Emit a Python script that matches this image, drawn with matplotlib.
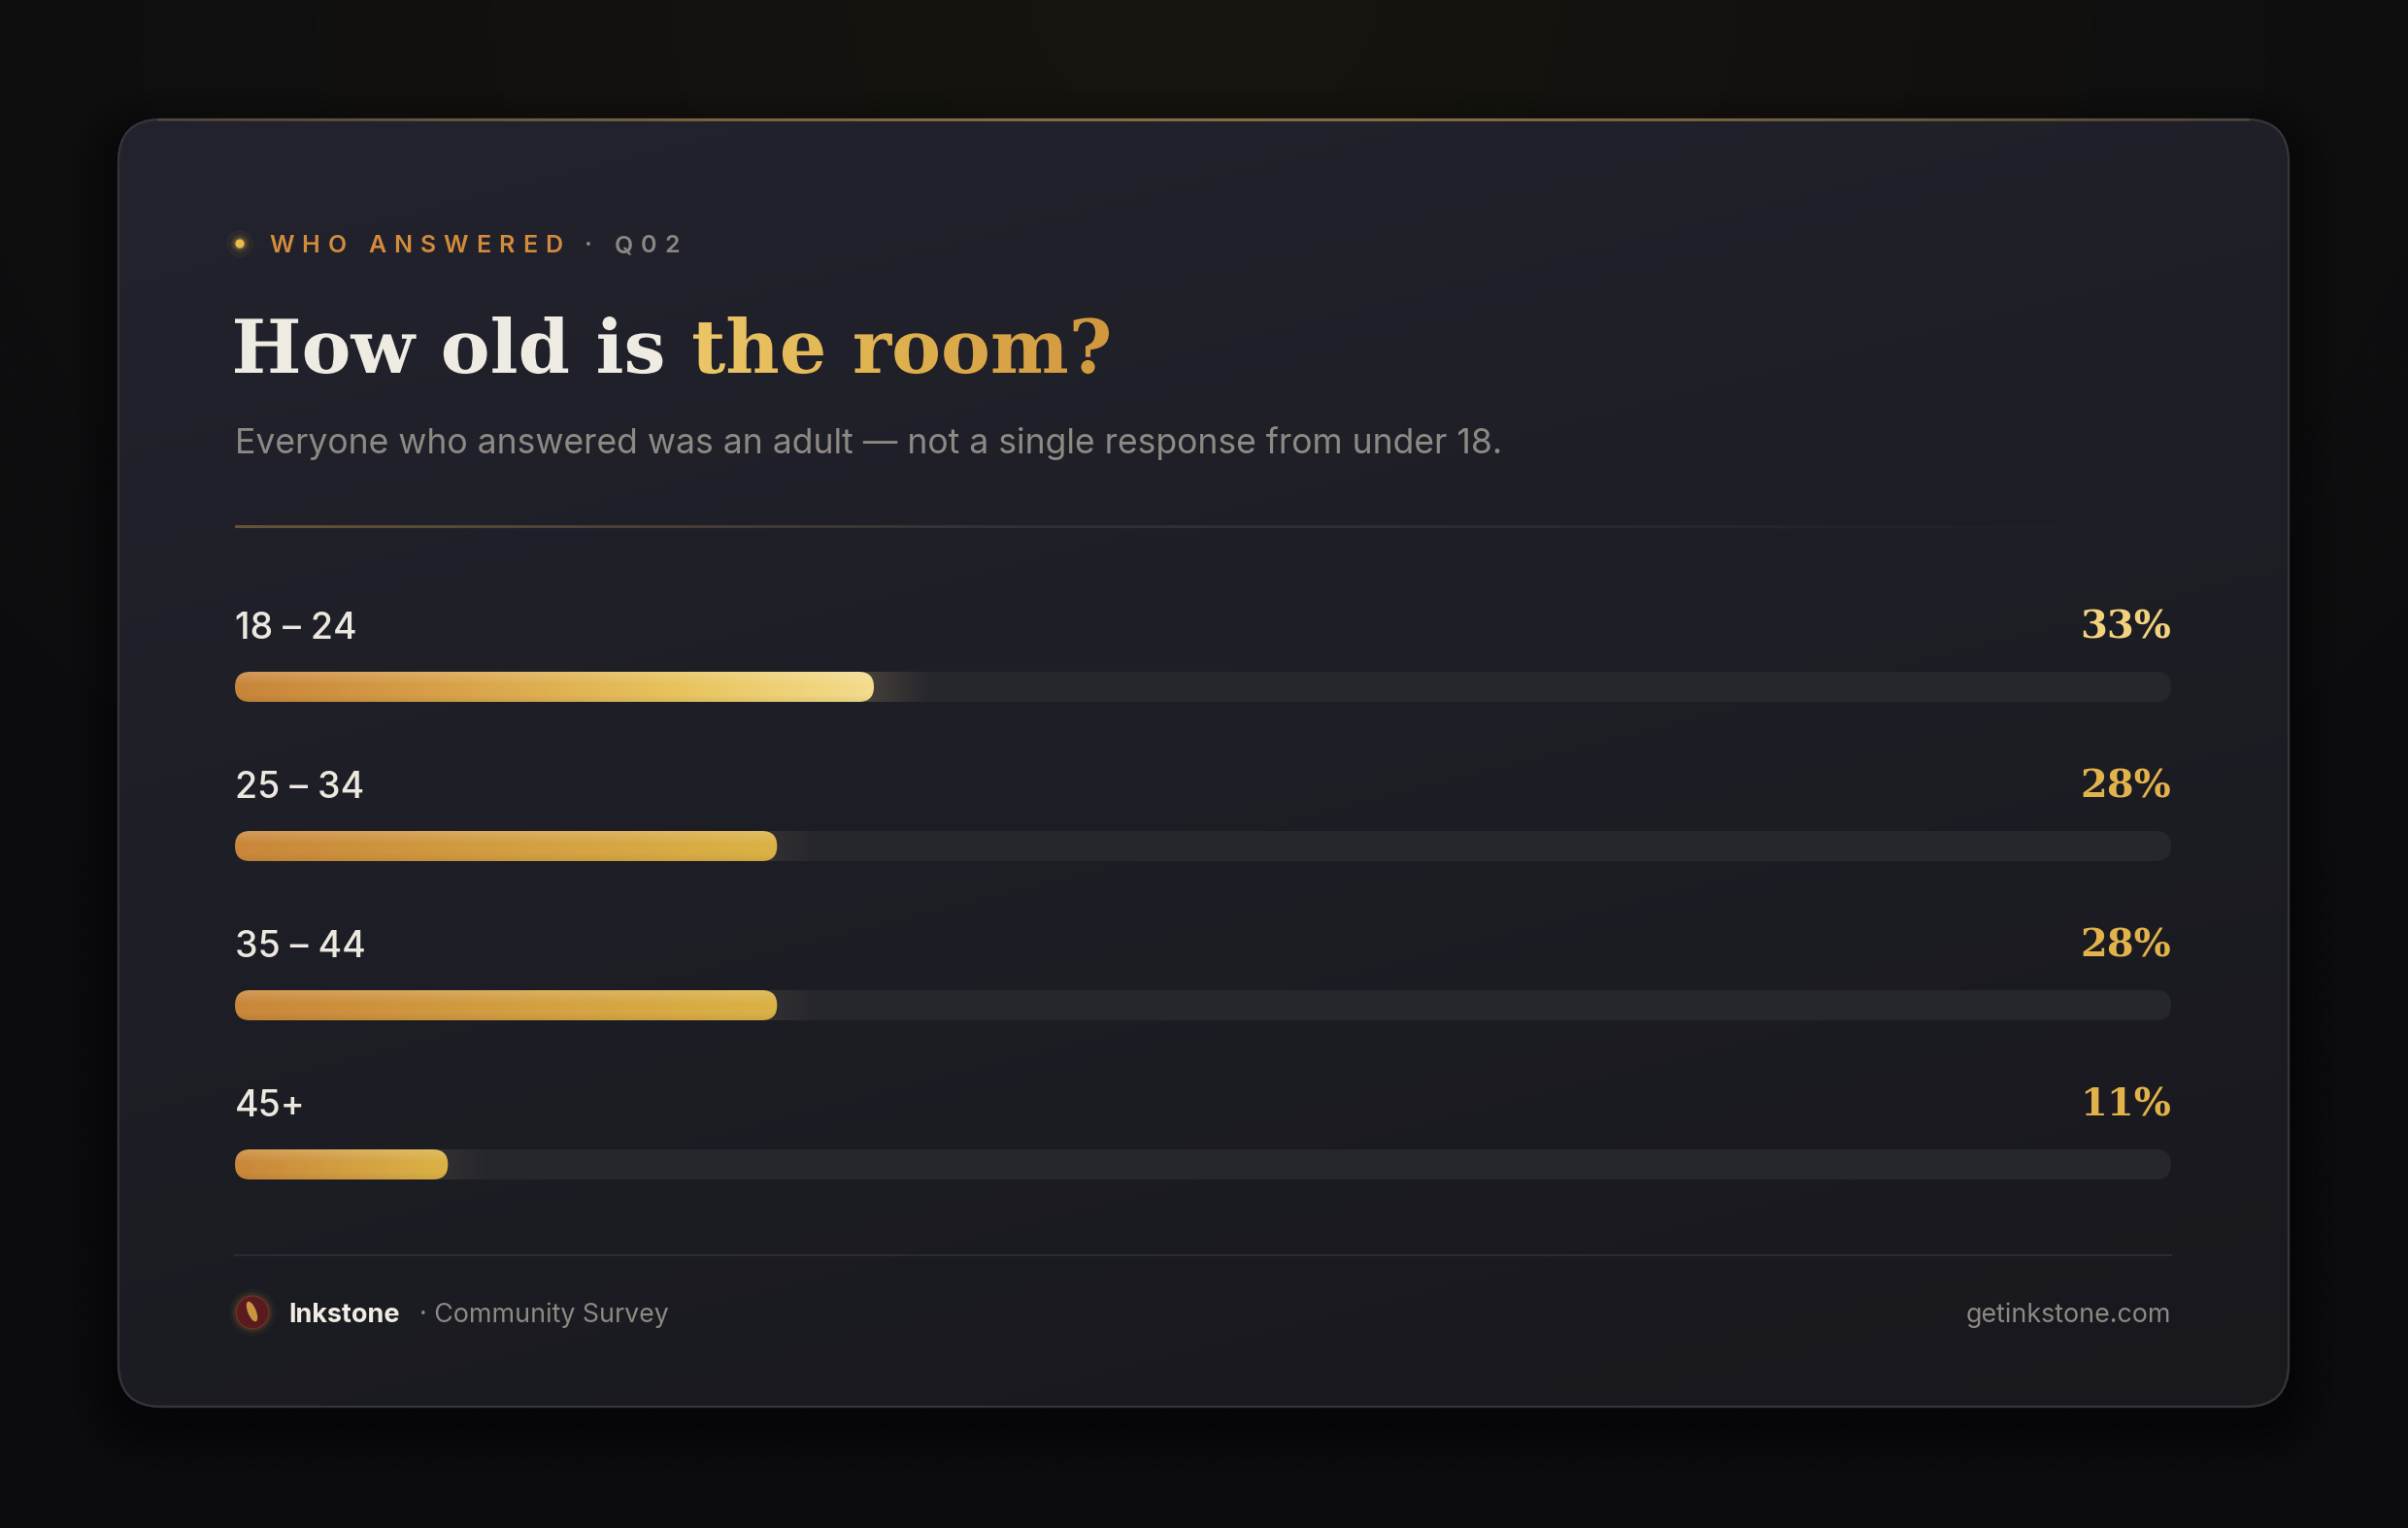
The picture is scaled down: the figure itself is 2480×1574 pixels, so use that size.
"""Age breakdown card: 'How old is the room?' survey bars."""

import matplotlib
matplotlib.use("Agg")
import matplotlib.pyplot as plt
import numpy as np
from matplotlib.colors import to_rgb
from matplotlib.font_manager import FontProperties
from matplotlib.patches import Circle, Ellipse, FancyBboxPatch, PathPatch
from matplotlib.textpath import TextPath
from matplotlib.transforms import Affine2D

# data
age_groups = ["18 – 24", "25 – 34", "35 – 44", "45+"]
shares = [33, 28, 28, 11]
highlight = [True, False, False, False]

eyebrow = "WHO ANSWERED"
eyebrow_tag = "· Q02"
title_plain = "How old is"
title_accent = "the room?"
subtitle = "Everyone who answered was an adult — not a single response from under 18."
brand = "Inkstone"
brand_note = "· Community Survey"
site = "getinkstone.com"

# canvas / layout, all in pixels
W, H, DPI = 2480, 1574, 100
LEFT, RIGHT = 242, 2236
CARD = (122, 123, 2235, 1326)
ROW0, ROW_GAP = 658, 164
BAR_OFFSET, BAR_H = 49.5, 31

SANS = "Inter"
SERIF = "DejaVu Serif"


def pt(px):
    return px * 72 / DPI


def ramp(stops, n):
    pos = np.array([s[0] for s in stops])
    cols = np.array([to_rgb(s[1]) for s in stops])
    x = np.linspace(0, 1, n)
    return np.stack([np.interp(x, pos, cols[:, k]) for k in range(3)], axis=-1)


fig = plt.figure(figsize=(W / DPI, H / DPI), dpi=DPI)
bg = fig.add_axes([0, 0, 1, 1])
bg.set_xlim(0, W)
bg.set_ylim(H, 0)
bg.axis("off")
renderer = fig.canvas.get_renderer()

# outer backdrop with a faint warm glow at the top
yy, xx = np.mgrid[0:1:200j, 0:1:320j]
glow = np.clip(1 - np.sqrt(((xx - 0.5) * 1.5) ** 2 + (yy * 1.3) ** 2), 0, 1)
base, warm = np.array(to_rgb("#0c0c0f")), np.array(to_rgb("#17150f"))
bg.imshow(base + (warm - base) * glow[..., None], extent=[0, W, H, 0],
          aspect="auto", interpolation="bicubic", zorder=0)

# card shadow + card
cx, cy, cw, ch = CARD
for k in range(6):
    grow = 6 + k * 8
    bg.add_patch(FancyBboxPatch((cx - grow, cy - grow + 18), cw + 2 * grow, ch + 2 * grow,
                                boxstyle=f"round,pad=0,rounding_size={44 + grow}",
                                fc="black", ec="none", alpha=0.05, zorder=1))
card = FancyBboxPatch((cx, cy), cw, ch, boxstyle="round,pad=0,rounding_size=44",
                      fc="#1d1d25", ec="#37353a", lw=1.6, zorder=2)
bg.add_patch(card)
t = 0.7 * yy + 0.3 * xx
c_top, c_bot = np.array(to_rgb("#23232e")), np.array(to_rgb("#18181d"))
card_img = bg.imshow(c_top + (c_bot - c_top) * t[..., None], extent=[cx, cx + cw, cy + ch, cy],
                     aspect="auto", interpolation="bicubic", zorder=2.1)
card_img.set_clip_path(card)
bg.add_patch(FancyBboxPatch((cx, cy), cw, ch, boxstyle="round,pad=0,rounding_size=44",
                            fc="none", ec="#36343a", lw=1.6, zorder=2.2))
# warm line along the card's top edge
edge = np.zeros((1, 400, 4))
edge[..., :3] = to_rgb("#9a7e45")
edge[..., 3] = 0.25 + 0.55 * np.sin(np.linspace(0, np.pi, 400))
bg.imshow(edge, extent=[cx + 40, cx + cw - 40, cy + 2.5, cy - 0.5], aspect="auto", zorder=2.3)

# eyebrow
for r, a in [(14, 0.05), (9, 0.10), (6.5, 0.2)]:
    bg.add_patch(Circle((247, 251), r, fc="#e8b84a", ec="none", alpha=a, zorder=3))
bg.add_patch(Circle((247, 251), 4.6, fc="#e8bd4c", ec="none", zorder=3))


def advance(ch, **kw):
    probe = bg.text(0, 0, "H" + ch + "H", **kw)
    ref = bg.text(0, 0, "HH", **kw)
    w = probe.get_window_extent(renderer).width - ref.get_window_extent(renderer).width
    probe.remove()
    ref.remove()
    return w


brow_kw = dict(fontfamily=SANS, fontweight="semibold", fontsize=pt(25))
tracking = 8.1
x = 277
for text, color in [(eyebrow, "#d38b3c"), (" " + eyebrow_tag, "#8b8781")]:
    for ch_ in text:
        bg.text(x, 260, ch_, color=color, va="baseline", ha="left", zorder=3, **brow_kw)
        x += advance(ch_, **brow_kw) + tracking

# title with gradient accent
fp_title = FontProperties(family=SERIF, weight="bold")
full = TextPath((0, 0), title_plain + " " + title_accent, size=100, prop=fp_title)
size = 100 * 900 / full.get_extents().width
full = TextPath((0, 0), title_plain + " " + title_accent, size=size, prop=fp_title)
plain = TextPath((0, 0), title_plain, size=size, prop=fp_title)
accent = TextPath((0, 0), title_accent, size=size, prop=fp_title)
x0 = LEFT - full.get_extents().x0
ax_acc = x0 + full.get_extents().x1 - accent.get_extents().x1
base_y = 384
bg.add_patch(PathPatch(plain, transform=Affine2D().scale(1, -1).translate(x0, base_y) + bg.transData,
                       fc="#eeebe3", ec="none", zorder=3))
acc_patch = PathPatch(accent, transform=Affine2D().scale(1, -1).translate(ax_acc, base_y) + bg.transData,
                      fc="none", ec="none", zorder=3)
bg.add_patch(acc_patch)
ae = accent.get_extents()
grad = ramp([(0, "#ecc767"), (0.5, "#dfb04e"), (1, "#d2973f")], 256)[None, :, :]
acc_img = bg.imshow(grad, extent=[ax_acc + ae.x0, ax_acc + ae.x1, base_y + 30, base_y - ae.y1 - 5],
                    aspect="auto", zorder=3)
acc_img.set_clip_path(acc_patch)

bg.text(LEFT, 467, subtitle, fontfamily=SANS, fontsize=pt(35.6), color="#8d8983",
        va="baseline", zorder=3)

# divider fading from warm to nothing
div = np.zeros((1, 400, 4))
div[..., :3] = ramp([(0, "#6a5838"), (0.4, "#35343a"), (1, "#2e2e35")], 400)
div[..., 3] = np.interp(np.linspace(0, 1, 400), [0, 0.6, 1], [0.95, 0.8, 0.0])
bg.imshow(div, extent=[LEFT, RIGHT, 544.5, 542], aspect="auto", zorder=3)

# bars in their own axes: x is the share in percent
bars = fig.add_axes([LEFT / W, 0, (RIGHT - LEFT) / W, 1])
bars.set_xlim(0, 100)
bars.set_ylim(H, 0)
bars.axis("off")
bars.patch.set_visible(False)
unit = (RIGHT - LEFT) / 100
rnd = BAR_H / 2 / unit

for i, (label, value, hot) in enumerate(zip(age_groups, shares, highlight)):
    base_line = ROW0 + i * ROW_GAP
    yc = base_line + BAR_OFFSET
    bars.text(0, base_line, label, fontfamily=SANS, fontweight="medium", fontsize=pt(37.5),
              color="#ece8df", va="baseline", ha="left")
    bars.text(100, base_line, f"{value}%", fontfamily=SERIF, fontweight="bold", fontsize=pt(40),
              color="#f2d27c" if hot else "#e2b24b", va="baseline", ha="right")

    track = FancyBboxPatch((0, yc - BAR_H / 2), 100, BAR_H,
                           boxstyle=f"round,pad=0,rounding_size={rnd}", mutation_aspect=unit,
                           fc="#26262d", ec="none", zorder=1)
    bars.add_patch(track)
    # soft light spilling past the bar end
    spill = np.zeros((1, 100, 4))
    spill[..., :3] = to_rgb("#e8c27a")
    spill[..., 3] = np.linspace(0.2 if hot else 0.08, 0, 100)
    sp = bars.imshow(spill, extent=[value - 1, value + (3 if hot else 2.2),
                                    yc + BAR_H / 2, yc - BAR_H / 2],
                     aspect="auto", zorder=1.5)
    sp.set_clip_path(track)

    bar = FancyBboxPatch((0, yc - BAR_H / 2), value, BAR_H,
                         boxstyle=f"round,pad=0,rounding_size={rnd}", mutation_aspect=unit,
                         fc="none", ec="none", zorder=2)
    bars.add_patch(bar)
    if hot:
        stops = [(0, "#c8853a"), (0.35, "#d9a34a"), (0.7, "#e8c45e"), (1, "#f3dc8e")]
    else:
        stops = [(0, "#c9873a"), (0.55, "#d3a042"), (1, "#dbb246")]
    row = ramp(stops, 256)
    shade = np.concatenate([np.linspace(0.16, 0.0, 14), np.zeros(10), np.linspace(0, -0.06, 8)])
    img = row[None, :, :] + (np.where(shade[:, None, None] > 0, 1 - row[None], row[None])
                             * shade[:, None, None])
    bi = bars.imshow(np.clip(img, 0, 1), extent=[0, value, yc + BAR_H / 2, yc - BAR_H / 2],
                     aspect="auto", interpolation="bilinear", zorder=2)
    bi.set_clip_path(bar)
bars.set_xlim(0, 100)
bars.set_ylim(H, 0)

# footer
bg.plot([LEFT, RIGHT], [1293, 1293], color="#2b2b32", lw=1.5, zorder=3)
for r, a in [(24, 0.05), (20.5, 0.1)]:
    bg.add_patch(Circle((260, 1352), r, fc="#c8953c", ec="none", alpha=a, zorder=3))
bg.add_patch(Circle((260, 1352), 17, fc="#5a1b20", ec="#6e3326", lw=1, zorder=3))
bg.add_patch(Ellipse((259.5, 1351), 8.5, 22, angle=-22, fc="#c9963e", ec="none", zorder=3.1))
bg.text(297, 1362, brand, fontfamily=SANS, fontweight="bold", fontsize=pt(27),
        color="#f0ece4", va="baseline", zorder=3)
bg.text(432, 1362, brand_note, fontfamily=SANS, fontsize=pt(26.8), color="#8d8983",
        va="baseline", zorder=3)
bg.text(RIGHT, 1362, site, fontfamily=SANS, fontsize=pt(26.8), color="#8d8983",
        va="baseline", ha="right", zorder=3)

bg.set_xlim(0, W)
bg.set_ylim(H, 0)
fig.savefig("out.png", dpi=DPI, facecolor="#0c0c0f")
